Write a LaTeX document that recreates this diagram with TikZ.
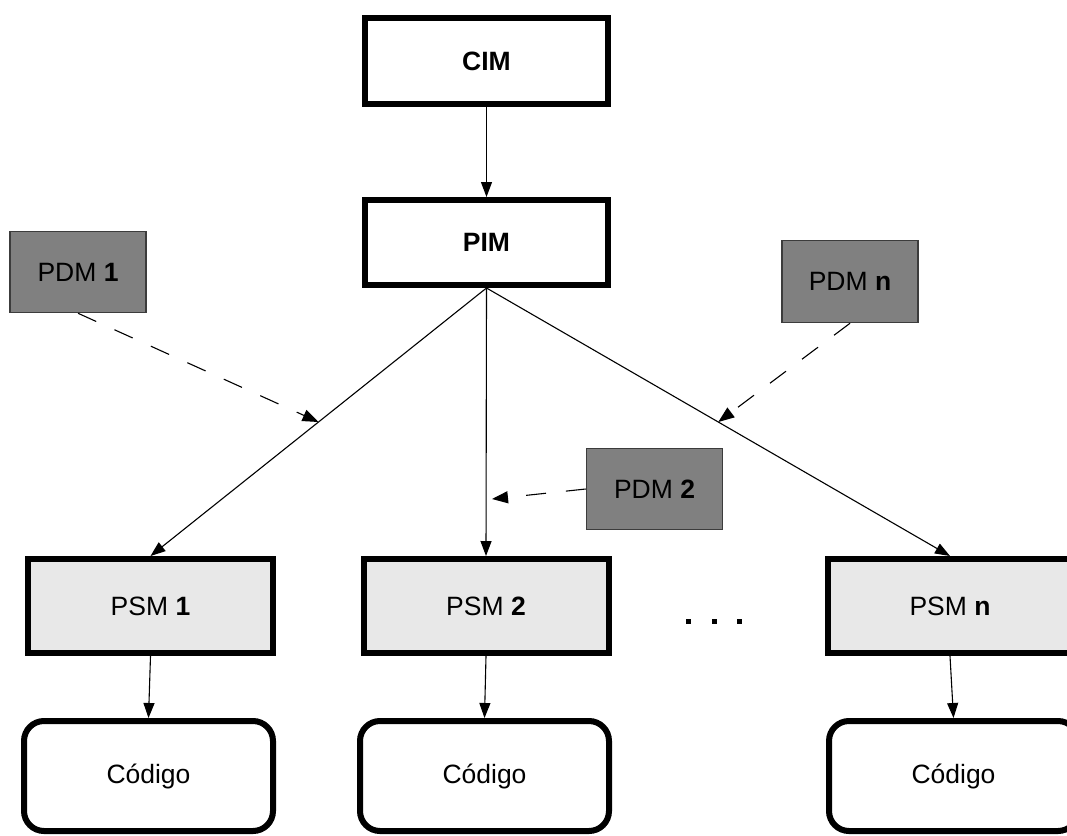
\documentclass[tikz,border=0pt]{standalone}
\usepackage{fontspec}
\setmainfont{Liberation Sans}
\usetikzlibrary{arrows.meta,calc}
\definecolor{pdmfill}{RGB}{128,128,128}
\definecolor{pdmline}{RGB}{60,60,60}
\definecolor{psmfill}{RGB}{232,232,232}
\begin{document}
\begin{tikzpicture}[x=1pt,y=-1pt,
  every node/.style={inner sep=0pt,font=\fontsize{26.5}{30}\selectfont},
  model/.style={draw,line width=6pt,rectangle,fill=white,minimum width=243pt,minimum height=86pt},
  psmbox/.style={draw,line width=6pt,rectangle,fill=psmfill,minimum width=245pt,minimum height=94pt},
  codebox/.style={draw,line width=6pt,rectangle,rounded corners=20pt,fill=white,minimum width=249pt,minimum height=110pt},
  pdmbox/.style={draw=pdmline,line width=1.5pt,rectangle,fill=pdmfill,minimum width=136pt,minimum height=81pt},
  flow/.style={line width=1.1pt,-{Triangle[length=15pt,width=11pt]}},
  mapping/.style={line width=1.1pt,dash pattern=on 20pt off 20pt,-{Triangle[length=16pt,width=12pt]}}]
\useasboundingbox (0,0) rectangle (1067,835);
\clip (0,0) rectangle (1067,835);
\fill[white] (0,0) rectangle (1067,835);

% model levels
\node[model] (cim) at (486.5,61) {\textbf{CIM}};
\node[model,minimum height=85pt] (pim) at (486.5,242.5) {\textbf{PIM}};

% platform definition models
\node[pdmbox] (pdm1) at (78,272) {PDM \textbf{1}};
\node[pdmbox,minimum height=82pt] (pdmn) at (850,281.5) {PDM \textbf{n}};
\node[pdmbox] (pdm2) at (654.5,489) {PDM \textbf{2}};

% platform specific models
\node[psmbox] (psm1) at (150.5,606) {PSM \textbf{1}};
\node[psmbox] (psm2) at (486,606) {PSM \textbf{2}};
\node[psmbox] (psmn) at (950,606) {PSM \textbf{n}};

% generated code
\node[codebox] (code1) at (148.5,776) {Código};
\node[codebox] (code2) at (484.5,776) {Código};
\node[codebox] (coden) at (953.5,776) {Código};

% ellipsis between PSM 2 and PSM n
\foreach \x in {688,714,739}
  \fill (\x-2.5,618.5) rectangle (\x+2.5,623.5);

% transformations
\draw[flow] (cim.south) -- (pim.north);
\draw[flow] (pim.south) -- (psm1.north);
\draw[flow] (pim.south) -- (psm2.north);
\draw[flow] (pim.south) -- (psmn.north);
\draw[flow] (psm1.south) -- (code1.north);
\draw[flow] (psm2.south) -- (code2.north);
\draw[flow] (psmn.south) -- (coden.north);

% mapping inputs
\coordinate (m1) at ($(pim.south)!0.5!(psm1.north)$);
\coordinate (mn) at ($(pim.south)!0.5!(psmn.north)$);
\coordinate (m2) at (492,499);
\draw[mapping] (pdm1.south) -- (m1);
\draw[mapping] (pdmn.south) -- (mn);
\draw[mapping] (pdm2.west) -- (m2);
\end{tikzpicture}
\end{document}
